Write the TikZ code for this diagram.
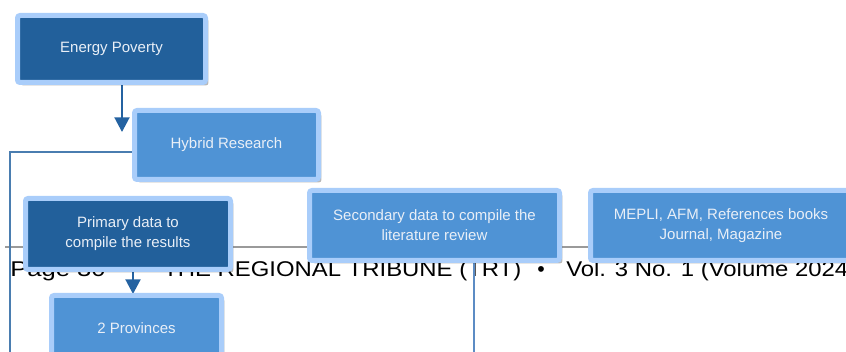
\documentclass[tikz,border=0pt]{standalone}
\usepackage{fontspec}
\setmainfont{Liberation Sans}
\newfontfamily\footfontA[FakeStretch=1.2]{Liberation Sans}
\newfontfamily\footfontB[FakeStretch=1.12]{Liberation Sans}
\usetikzlibrary{arrows.meta,shadows,calc}
\definecolor{darkbox}{HTML}{22609B}
\definecolor{lightbox}{HTML}{4F93D5}
\definecolor{rimcol}{HTML}{A9CDFA}
\definecolor{boxtext}{HTML}{E9EFF7}
\definecolor{arrowcol}{HTML}{2462A1}
\definecolor{conncol}{HTML}{4A7DB0}
\definecolor{vertcol}{HTML}{5C8CC4}
\definecolor{rulecol}{HTML}{9A9A9A}
\tikzset{
  boxbase/.style={draw=rimcol, line width=3.75pt, rounded corners=1.9pt, inner sep=0pt, outer sep=0pt,
    text=boxtext, align=center, font=\fontsize{11.25pt}{15pt}\selectfont,
    drop shadow={shadow xshift=2.2pt, shadow yshift=-2.2pt, opacity=0.28, fill=black}},
  darkstep/.style={boxbase, fill=darkbox},
  lightstep/.style={boxbase, fill=lightbox},
  arr/.style={draw=arrowcol, line width=1.5pt, -{Triangle[length=11pt,width=11.25pt]}},
  conn/.style={draw=conncol, line width=1.1pt},
  vconn/.style={draw=vertcol, line width=1.5pt},
  foot/.style={anchor=base west, inner sep=0pt, text=black}
}
\begin{document}
\begin{tikzpicture}[x=0.75pt,y=-0.75pt]
\useasboundingbox (0,0) rectangle (846,352);
\clip (0,0) rectangle (846,352);
% page rule and footer
\coordinate (r1) at (5,247);
\coordinate (r2) at (846,247);
\draw[rulecol, line width=1.1pt] (r1) -- (r2);
\node[foot, font=\footfontA\fontsize{16pt}{18pt}\selectfont] (pg) at (10,277) {Page 30};
\node[foot, font=\footfontB\fontsize{16pt}{18pt}\selectfont] (trt) at (163,277) {THE REGIONAL TRIBUNE (TRT)};
\node[anchor=base, inner sep=0pt, font=\fontsize{16pt}{18pt}\selectfont] (bul) at (541,277) {•};
\node[foot, font=\footfontB\fontsize{16pt}{18pt}\selectfont] (vol) at (566,277) {Vol. 3 No. 1 (Volume 2024};
% box positions
\coordinate (pep) at (111.5,49);
\coordinate (phr) at (226.5,145);
\coordinate (ppd) at (128,234);
\coordinate (ppv) at (136.5,328);
\coordinate (psd) at (434.5,225.5);
\coordinate (pmp) at (721,225.5);
% connector helper coordinates
\coordinate (a1) at (122,132);
\coordinate (a2) at (133,294);
\coordinate (l1) at (10,352);
\coordinate (v2) at (474,352);
% boxes drawn as invisible first for naming
\path (pep) node[minimum width=141pt, minimum height=50.25pt, inner sep=0pt, outer sep=0pt] (ep0) {};
\path (phr) node[minimum width=138pt, minimum height=51.75pt, inner sep=0pt, outer sep=0pt] (hr0) {};
\path (ppd) node[minimum width=153.75pt, minimum height=53.25pt, inner sep=0pt, outer sep=0pt] (pd0) {};
\path (psd) node[minimum width=187.5pt, minimum height=52.5pt, inner sep=0pt, outer sep=0pt] (sd0) {};
% connectors
\draw[arr] (ep0.south -| a1) -- (a1);
\draw[arr] (pd0.south -| a2) -- (a2);
\draw[conn] ($(hr0.west)+(3,7)$) -| (l1);
\draw[vconn] (sd0.south -| v2) -- (v2);
% visible boxes
\node[darkstep, minimum width=141pt, minimum height=50.25pt] (ep) at (pep) {Energy Poverty};
\node[lightstep, minimum width=138pt, minimum height=51.75pt] (hr) at (phr) {Hybrid Research};
\node[darkstep, minimum width=153.75pt, minimum height=53.25pt] (pd) at (ppd) {Primary data to\\compile the results};
\node[lightstep, minimum width=127.5pt, minimum height=48.75pt] (pv) at (ppv) {2 Provinces};
\node[lightstep, minimum width=187.5pt, minimum height=52.5pt] (sd) at (psd) {Secondary data to compile the\\literature review};
\node[lightstep, minimum width=195.75pt, minimum height=52.5pt] (mp) at (pmp) {MEPLI, AFM, References books\\Journal, Magazine};
\end{tikzpicture}
\end{document}
